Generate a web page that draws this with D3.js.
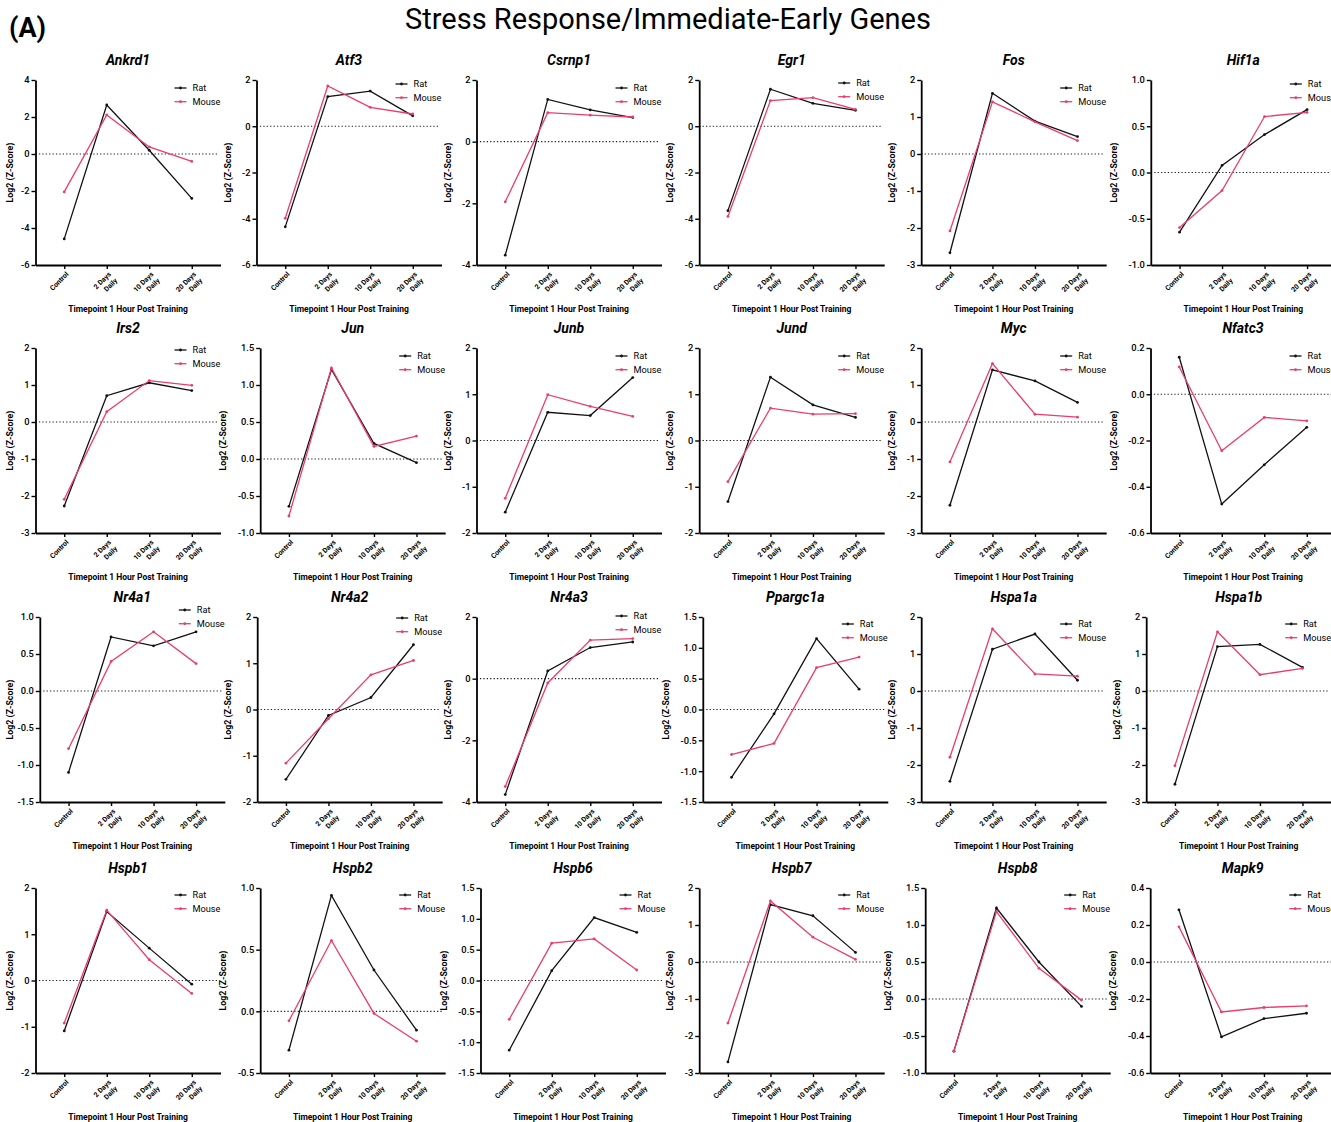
<!DOCTYPE html>
<html><head><meta charset="utf-8">
<script src="https://cdn.jsdelivr.net/npm/d3@7"></script>
<style>body{margin:0;background:#fff}svg{display:block}</style>
</head><body><svg id="chart" width="1331" height="1122"></svg>
<script>
// ---------- DATA ----------
const figureTitle = "Stress Response/Immediate-Early Genes";
const panelLetter = "(A)";
const xAxisTitle = "Timepoint 1 Hour Post Training";
const yAxisTitle = "Log2 (Z-Score)";
const categories = ["Control", "2 Days Daily", "10 Days Daily", "20 Days Daily"];
const seriesNames = ["Rat", "Mouse"];
const genes = ["Ankrd1","Atf3","Csrnp1","Egr1","Fos","Hif1a",
               "Irs2","Jun","Junb","Jund","Myc","Nfatc3",
               "Nr4a1","Nr4a2","Nr4a3","Ppargc1a","Hspa1a","Hspa1b",
               "Hspb1","Hspb2","Hspb6","Hspb7","Hspb8","Mapk9"];
const ratValues = [
  [-4.59, 2.65, 0.20, -2.40],
  [-4.35, 1.28, 1.52, 0.45],
  [-3.68, 1.37, 1.03, 0.78],
  [-3.65, 1.60, 0.99, 0.69],
  [-2.67, 1.64, 0.89, 0.47],
  [-0.645, 0.076, 0.41, 0.68],
  [-2.27, 0.71, 1.06, 0.85],
  [-0.64, 1.21, 0.21, -0.05],
  [-1.55, 0.61, 0.54, 1.36],
  [-1.32, 1.37, 0.77, 0.50],
  [-2.25, 1.41, 1.11, 0.53],
  [0.16, -0.475, -0.305, -0.143],
  [-1.10, 0.73, 0.61, 0.80],
  [-1.51, -0.13, 0.26, 1.40],
  [-3.76, 0.25, 1.01, 1.19],
  [-1.10, -0.07, 1.15, 0.33],
  [-2.44, 1.13, 1.54, 0.29],
  [-2.52, 1.20, 1.26, 0.64],
  [-1.09, 1.49, 0.70, -0.08],
  [-0.315, 0.94, 0.335, -0.153],
  [-1.13, 0.16, 1.02, 0.78],
  [-2.70, 1.55, 1.25, 0.26],
  [-0.705, 1.23, 0.50, -0.10],
  [0.282, -0.405, -0.306, -0.277]
];
const mouseValues = [
  [-2.05, 2.11, 0.38, -0.40],
  [-3.98, 1.74, 0.82, 0.53],
  [-1.95, 0.94, 0.86, 0.80],
  [-3.90, 1.11, 1.24, 0.73],
  [-2.08, 1.41, 0.87, 0.36],
  [-0.595, -0.195, 0.605, 0.65],
  [-2.09, 0.28, 1.12, 0.99],
  [-0.77, 1.23, 0.17, 0.31],
  [-1.25, 0.99, 0.74, 0.52],
  [-0.89, 0.70, 0.57, 0.58],
  [-1.08, 1.58, 0.21, 0.13],
  [0.118, -0.244, -0.10, -0.115],
  [-0.78, 0.40, 0.80, 0.37],
  [-1.16, -0.20, 0.75, 1.06],
  [-3.50, -0.14, 1.25, 1.30],
  [-0.73, -0.55, 0.68, 0.85],
  [-1.79, 1.68, 0.46, 0.40],
  [-2.02, 1.60, 0.44, 0.61],
  [-0.92, 1.52, 0.45, -0.28],
  [-0.077, 0.574, -0.017, -0.242],
  [-0.63, 0.605, 0.675, 0.17],
  [-1.65, 1.65, 0.67, 0.07],
  [-0.705, 1.18, 0.415, -0.015],
  [0.19, -0.27, -0.246, -0.237]
];
const yMin  = [-6,-6,-4,-6,-3,-1,  -3,-1,-2,-2,-3,-0.6,  -1.5,-2,-4,-1.5,-3,-3,  -2,-0.5,-1.5,-3,-1,-0.6];
const yMax  = [4,2,2,2,2,1,        2,1.5,2,2,2,0.2,      1,2,2,1.5,2,2,          2,1,1.5,2,1.5,0.4];
const yStep = [2,2,2,2,1,0.5,      1,0.5,1,1,1,0.2,      0.5,1,2,0.5,1,1,        1,0.5,0.5,1,0.5,0.2];

// ---------- LAYOUT (not data) ----------
const W = 1331, H = 1122;
const plotW = 185, plotH = 185;
const rowTop = [80, 348, 617, 888];
const axisX = [35.5, 256.5, 476.5, 699.2, 921.2, 1150.8,
               35.5, 260.2, 476.5, 699.2, 921.2, 1150.5,
               39.8, 257.2, 476.5, 702.8, 921.2, 1146.2,
               35.5, 260.2, 480.5, 699.2, 925.2, 1150.2];
const legendDy = [8,4,8,3,8,4,  2,8,8,8,8,8,  -7,1,-1,7,7,7,  7,7,7,7,7,7];
const colors = {Rat: "#111111", Mouse: "#ea3d6f"};
const FONT = "Roboto, 'Liberation Sans', Arial, sans-serif";

const svg = d3.select("#chart").attr("font-family", FONT);
svg.append("rect").attr("width", W).attr("height", H).attr("fill", "#fff");

svg.append("text").attr("x", 668).attr("y", 29).attr("text-anchor", "middle")
  .attr("font-size", 29).attr("fill", "#000").text(figureTitle);
svg.append("text").attr("x", 9).attr("y", 37)
  .attr("font-size", 27).attr("font-weight", 700).attr("fill", "#000").text(panelLetter);

const fmtMinus = f => (v => f(v).replace("\u2212", "-"));

genes.forEach((gene, i) => {
  const row = Math.floor(i / 6);
  const ax = axisX[i], top = rowTop[row];
  const g = svg.append("g").attr("transform", `translate(${ax},${top})`);

  const x = d3.scalePoint().domain(categories).range([0, plotW]).padding(0.676);
  const y = d3.scaleLinear().domain([yMin[i], yMax[i]]).range([plotH, 0]);
  const ticks = d3.range(0, Math.round((yMax[i] - yMin[i]) / yStep[i]) + 1).map(k => +(yMin[i] + k * yStep[i]).toFixed(3));
  const fmt = yStep[i] < 1 ? fmtMinus(d3.format(".1f")) : fmtMinus(d3.format("d"));

  // zero line
  g.append("line").attr("x1", 0).attr("x2", plotW - 3).attr("y1", y(0)).attr("y2", y(0))
    .attr("stroke", "#222").attr("stroke-width", 1.2).attr("stroke-dasharray", "1.3,2.1");

  // y axis
  const yAx = g.append("g").call(d3.axisLeft(y).tickValues(ticks).tickFormat(fmt).tickSize(4).tickSizeOuter(0).tickPadding(2));
  yAx.select(".domain").attr("stroke", "#000").attr("stroke-width", 1.8);
  yAx.selectAll(".tick line").attr("stroke", "#000").attr("stroke-width", 1.4);
  yAx.selectAll(".tick text").attr("font-size", 9.3).attr("font-weight", 500).attr("fill", "#000").attr("font-family", FONT);

  // x axis
  const xAx = g.append("g").attr("transform", `translate(0,${plotH})`)
    .call(d3.axisBottom(x).tickSize(4).tickSizeOuter(0).tickFormat(""));
  xAx.select(".domain").attr("stroke", "#000").attr("stroke-width", 1.8);
  xAx.selectAll(".tick line").attr("stroke", "#000").attr("stroke-width", 1.4);

  // x tick labels (rotated, 2 lines)
  categories.forEach(c => {
    const lines = c.match(/^(.* Days) (Daily)$/) ? [c.replace(/ Daily$/, ""), "Daily"] : [c];
    const t = g.append("g").attr("transform", `translate(${x(c) + 3},${plotH + 8}) rotate(-45)`);
    lines.forEach((ln, k) => {
      t.append("text").attr("x", 0).attr("y", k * 9).attr("dy", "0.35em")
        .attr("text-anchor", "end").attr("font-size", 7).attr("font-weight", 700)
        .attr("fill", "#000").text(ln);
    });
  });

  // y axis title
  let minX = 0;
  yAx.selectAll(".tick text").each(function () {
    const b = this.getBBox();
    minX = Math.min(minX, b.x - 6);
  });
  let yl = minX - 8.5;
  if (ax + yl < 10) yl = 10 - ax;
  g.append("text").attr("transform", `translate(${yl + 3},${plotH / 2}) rotate(-90)`)
    .attr("text-anchor", "middle").attr("font-size", 8.8).attr("font-weight", 700)
    .attr("fill", "#000").text(yAxisTitle);

  // x axis title
  g.append("text").attr("x", plotW / 2).attr("y", plotH + 47).attr("text-anchor", "middle")
    .attr("font-size", 8.5).attr("font-weight", 700).attr("fill", "#000").text(xAxisTitle);

  // panel title
  g.append("text").attr("x", plotW / 2).attr("y", -15).attr("text-anchor", "middle")
    .attr("font-size", 14).attr("font-weight", 700).attr("font-style", "italic")
    .attr("fill", "#000").text(gene);

  // series
  const seriesData = {Rat: ratValues[i], Mouse: mouseValues[i]};
  const line = d3.line().x((d, k) => x(categories[k])).y(d => y(d));
  seriesNames.forEach(s => {
    g.append("path").datum(seriesData[s]).attr("d", line).attr("fill", "none")
      .attr("stroke", colors[s]).attr("stroke-width", 1.3).attr("stroke-linejoin", "miter");
    g.selectAll(null).data(seriesData[s]).join("circle")
      .attr("cx", (d, k) => x(categories[k])).attr("cy", d => y(d)).attr("r", 1.4)
      .attr("fill", colors[s]);
  });

  // legend
  seriesNames.forEach((s, k) => {
    const ly = legendDy[i] + k * 13.7;
    const lg = g.append("g").attr("transform", `translate(139,${ly})`);
    lg.append("line").attr("x1", 0).attr("x2", 12).attr("y1", 0).attr("y2", 0)
      .attr("stroke", colors[s]).attr("stroke-width", 1.3);
    lg.append("circle").attr("cx", 6).attr("cy", 0).attr("r", 1.4).attr("fill", colors[s]);
    lg.append("text").attr("x", 18).attr("y", 0).attr("dy", "0.35em")
      .attr("font-size", 9.2).attr("fill", "#000").text(s);
  });
});
</script>
</body></html>
